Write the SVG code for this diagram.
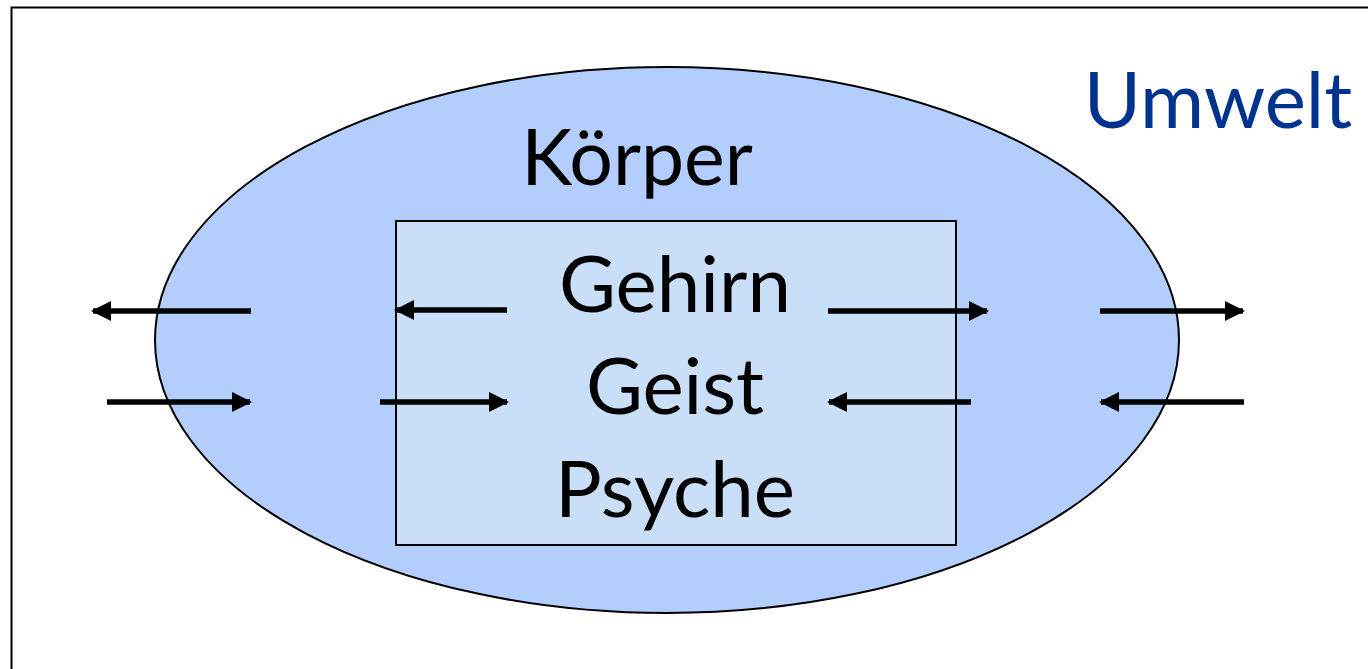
<svg xmlns="http://www.w3.org/2000/svg" width="1368" height="669" viewBox="0 0 1368 669">
  <defs>
    <style>
      .lbl { font-family: Lato, "Open Sans", sans-serif; fill: #000; text-anchor: middle; }
      .conn line { stroke: #000; stroke-width: 5.5; }
    </style>
    <marker id="head" viewBox="0 0 20 20" refX="18" refY="10" markerWidth="20" markerHeight="20" markerUnits="userSpaceOnUse" orient="auto">
      <path d="M0,0 L20,10 L0,20 Z" fill="#000"/>
    </marker>
  </defs>
  <rect width="1368" height="669" fill="#fff"/>
  <!-- outer frame: environment -->
  <rect id="frame" x="11.5" y="7.5" width="1400" height="700" fill="none" stroke="#000" stroke-width="2"/>
  <g id="umwelt">
    <text x="1218" y="128" font-family="Lato, 'Open Sans', sans-serif" font-size="78" fill="#00338d" text-anchor="middle">Umwelt</text>
  </g>
  <g id="koerper">
    <ellipse cx="667" cy="340" rx="512" ry="273" fill="#b3cdfc" stroke="#000" stroke-width="2"/>
    <text class="lbl" x="637" y="185" font-size="77">Körper</text>
  </g>
  <g id="gehirn">
    <rect x="396" y="221" width="560" height="324" fill="#c9dff8" stroke="#000" stroke-width="2"/>
    <text class="lbl" x="675" y="312" font-size="78">Gehirn</text>
    <text class="lbl" x="675" y="414" font-size="78">Geist</text>
    <text class="lbl" x="675" y="517" font-size="78">Psyche</text>
  </g>
  <g id="connectors" class="conn">
    <line x1="251" y1="311" x2="93" y2="311" marker-end="url(#head)"/>
    <line x1="107" y1="402" x2="250" y2="402" marker-end="url(#head)"/>
    <line x1="507" y1="310" x2="396" y2="310" marker-end="url(#head)"/>
    <line x1="380" y1="402" x2="507" y2="402" marker-end="url(#head)"/>
    <line x1="828" y1="311" x2="987" y2="311" marker-end="url(#head)"/>
    <line x1="971" y1="402" x2="829" y2="402" marker-end="url(#head)"/>
    <line x1="1100" y1="311" x2="1243" y2="311" marker-end="url(#head)"/>
    <line x1="1244" y1="402" x2="1101" y2="402" marker-end="url(#head)"/>
  </g>
</svg>
